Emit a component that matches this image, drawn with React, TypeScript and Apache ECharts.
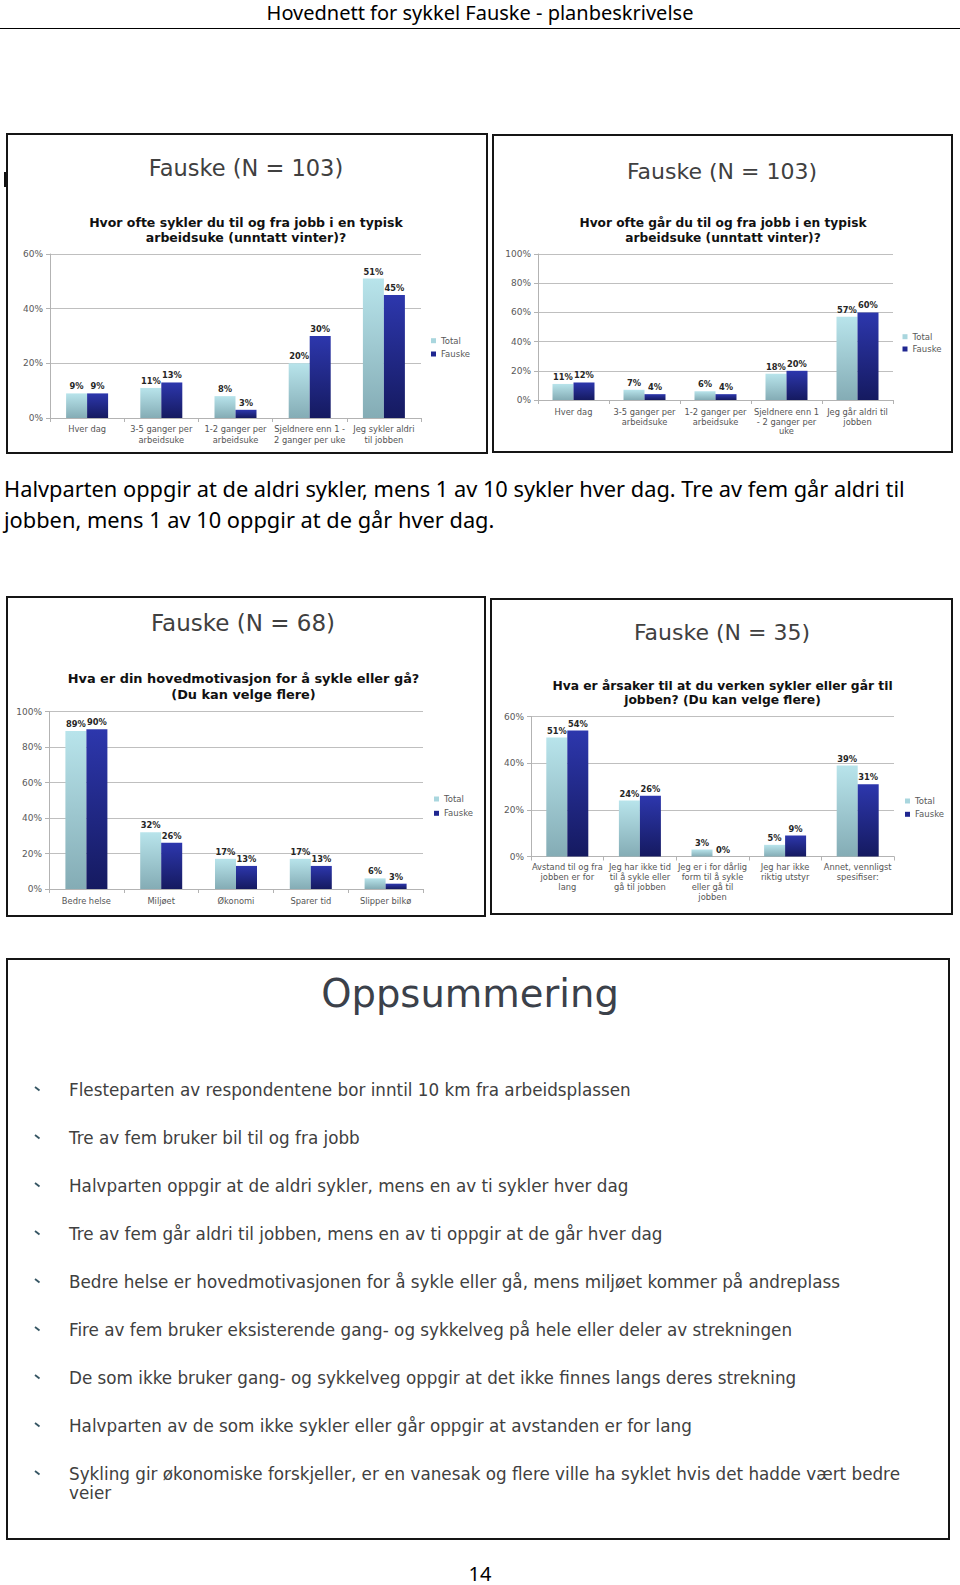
import React, { useEffect, useRef } from "react";
import * as echarts from "echarts";

// ---------- DATA ----------
const cycleCategories = ["Hver dag", "3-5 ganger per\narbeidsuke", "1-2 ganger per\narbeidsuke", "Sjeldnere enn 1 -\n2 ganger per uke", "Jeg sykler aldri\ntil jobben"];
const cycleTotal = [9, 11, 8, 20, 51];
const cycleFauske = [9, 13, 3, 30, 45];

const walkCategories = ["Hver dag", "3-5 ganger per\narbeidsuke", "1-2 ganger per\narbeidsuke", "Sjeldnere enn 1\n- 2 ganger per\nuke", "Jeg går aldri til\njobben"];
const walkTotal = [11, 7, 6, 18, 57];
const walkFauske = [12, 4, 4, 20, 60];

const motivCategories = ["Bedre helse", "Miljøet", "Økonomi", "Sparer tid", "Slipper bilkø"];
const motivTotal = [89, 32, 17, 17, 6];
const motivFauske = [90, 26, 13, 13, 3];

const reasonCategories = ["Avstand til og fra\njobben er for\nlang", "Jeg har ikke tid\ntil å sykle eller\ngå til jobben", "Jeg er i for dårlig\nform til å sykle\neller gå til\njobben", "Jeg har ikke\nriktig utstyr", "Annet, vennligst\nspesifiser:"];
const reasonTotal = [51, 24, 3, 5, 39];
const reasonFauske = [54, 26, 0, 9, 31];

const chartTitles = ["Fauske (N = 103)", "Fauske (N = 103)", "Fauske (N = 68)", "Fauske (N = 35)"];
const chartQuestions = [
  "Hvor ofte sykler du til og fra jobb i en typisk\narbeidsuke (unntatt vinter)?",
  "Hvor ofte går du til og fra jobb i en typisk\narbeidsuke (unntatt vinter)?",
  "Hva er din hovedmotivasjon for å sykle eller gå?\n(Du kan velge flere)",
  "Hva er årsaker til at du verken sykler eller går til\njobben? (Du kan velge flere)",
];
const yMax = [60, 100, 100, 60];
const seriesNames = ["Total", "Fauske"];

const headerText = "Hovednett for sykkel Fauske - planbeskrivelse";
const paragraphLines = [
  "Halvparten oppgir at de aldri sykler, mens 1 av 10 sykler hver dag. Tre av fem går aldri til",
  "jobben, mens 1 av 10 oppgir at de går hver dag.",
];
const summaryTitle = "Oppsummering";
const summaryItems = [
  "Flesteparten av respondentene bor inntil 10 km fra arbeidsplassen",
  "Tre av fem bruker bil til og fra jobb",
  "Halvparten oppgir at de aldri sykler, mens en av ti sykler hver dag",
  "Tre av fem går aldri til jobben, mens en av ti oppgir at de går hver dag",
  "Bedre helse er hovedmotivasjonen for å sykle eller gå, mens miljøet kommer på andreplass",
  "Fire av fem bruker eksisterende gang- og sykkelveg på hele eller deler av strekningen",
  "De som ikke bruker gang- og sykkelveg oppgir at det ikke finnes langs deres strekning",
  "Halvparten av de som ikke sykler eller går oppgir at avstanden er for lang",
  "Sykling gir økonomiske forskjeller, er en vanesak og flere ville ha syklet hvis det hadde vært bedre\nveier",
];
const pageNumber = "14";

// ---------- LAYOUT ----------
const FONT = "DejaVu Sans";
const grids = [
  { left: 50, top: 254, width: 371, height: 164 },
  { left: 538, top: 254, width: 355, height: 146 },
  { left: 49, top: 711.5, width: 374, height: 177.5 },
  { left: 531, top: 716.5, width: 363, height: 140 },
];
const boxes = [
  { x: 7, y: 134, w: 480, h: 319 },
  { x: 493, y: 135, w: 459, h: 317 },
  { x: 7, y: 597, w: 478, h: 319 },
  { x: 491, y: 599, w: 461, h: 315 },
];
const titlePos = [
  { x: 246, y: 168, size: 22.5 },
  { x: 722, y: 171.5, size: 22 },
  { x: 243, y: 623, size: 23 },
  { x: 722, y: 632.5, size: 22 },
];
const questionPos = [
  { x: 246, y: 222.7, size: 12.5, lh: 14.5 },
  { x: 723, y: 223, size: 12.2, lh: 14.5 },
  { x: 243.5, y: 678, size: 12.9, lh: 16 },
  { x: 722.5, y: 685.7, size: 12.3, lh: 14.5 },
];
const legendPos = [
  { left: 431, top: 335.7, gap: 3.3 },
  { left: 902.5, top: 331.7, gap: 2.3 },
  { left: 434, top: 794, gap: 4.3 },
  { left: 905, top: 796, gap: 3.3 },
];
const xLabelStyle = [
  { margin: 5.5, lh: 11 },
  { margin: 7, lh: 9.7 },
  { margin: 7, lh: 10 },
  { margin: 5.6, lh: 10 },
];

const totalColor = () =>
  new echarts.graphic.LinearGradient(0, 0, 0, 1, [
    { offset: 0, color: "#b8e4eb" },
    { offset: 1, color: "#84acb5" },
  ]);
const fauskeColor = () =>
  new echarts.graphic.LinearGradient(0, 0, 0, 1, [
    { offset: 0, color: "#2d37ad" },
    { offset: 1, color: "#151a60" },
  ]);

export default function App() {
  const ref = useRef<HTMLDivElement>(null);

  useEffect(() => {
    if (!ref.current) return;
    const chart = echarts.init(ref.current, undefined, { renderer: "svg" });

    const cats = [cycleCategories, walkCategories, motivCategories, reasonCategories];
    const totals = [cycleTotal, walkTotal, motivTotal, reasonTotal];
    const fauskes = [cycleFauske, walkFauske, motivFauske, reasonFauske];

    const xAxis = cats.map((c, i) => ({
      type: "category",
      gridIndex: i,
      data: c,
      axisLine: { show: true, lineStyle: { color: "#b3b3b3", width: 1 } },
      axisTick: { show: true, length: 4, lineStyle: { color: "#b3b3b3" } },
      axisLabel: {
        interval: 0,
        hideOverlap: false,
        color: "#555555",
        fontFamily: FONT,
        fontSize: 8.3,
        lineHeight: xLabelStyle[i].lh,
        margin: xLabelStyle[i].margin,
      },
    }));
    const yAxis = yMax.map((m, i) => ({
      type: "value",
      gridIndex: i,
      min: 0,
      max: m,
      interval: 20,
      axisLine: { show: true, lineStyle: { color: "#b3b3b3", width: 1 } },
      axisTick: { show: true, length: 4, lineStyle: { color: "#b3b3b3" } },
      splitLine: { show: true, lineStyle: { color: "#bfbfbf", width: 1 } },
      axisLabel: {
        formatter: "{value}%",
        color: "#595959",
        fontFamily: FONT,
        fontSize: 9,
        margin: 7,
      },
    }));

    const series: any[] = [];
    for (let i = 0; i < 4; i++) {
      [totals[i], fauskes[i]].forEach((d, k) => {
        series.push({
          type: "bar",
          name: seriesNames[k],
          xAxisIndex: i,
          yAxisIndex: i,
          data: d,
          barWidth: 21,
          barGap: "0%",
          itemStyle: { color: k === 0 ? totalColor() : fauskeColor() },
          label: {
            show: true,
            position: "top",
            distance: 3,
            formatter: "{c}%",
            fontFamily: FONT,
            fontSize: 8.3,
            fontWeight: "bold",
            color: "#262626",
          },
        });
      });
    }

    const legend = legendPos.map((p) => ({
      orient: "vertical",
      left: p.left,
      top: p.top,
      padding: 0,
      itemGap: p.gap,
      itemWidth: 5,
      itemHeight: 5,
      icon: "rect",
      textStyle: { color: "#595959", fontFamily: FONT, fontSize: 8.5, lineHeight: 10 },
      data: [
        { name: seriesNames[0], itemStyle: { color: "#a9d6de" } },
        { name: seriesNames[1], itemStyle: { color: "#1f2690" } },
      ],
    }));

    const graphic: any[] = [];
    // header
    graphic.push({
      type: "text",
      x: 480,
      y: 12,
      style: { text: headerText, font: "20px 'Noto Sans'", fill: "#000", textAlign: "center", textVerticalAlign: "middle" },
    });
    graphic.push({ type: "line", shape: { x1: 0, y1: 28.5, x2: 960, y2: 28.5 }, style: { stroke: "#000", lineWidth: 1 } });
    // small mark
    graphic.push({ type: "rect", shape: { x: 4, y: 172, width: 3, height: 15 }, style: { fill: "#111" } });
    // chart boxes, titles, questions
    boxes.forEach((b, i) => {
      graphic.push({
        type: "rect",
        shape: { x: b.x, y: b.y, width: b.w, height: b.h },
        style: { fill: "none", stroke: "#151515", lineWidth: 2 },
      });
      graphic.push({
        type: "text",
        x: titlePos[i].x,
        y: titlePos[i].y,
        style: {
          text: chartTitles[i],
          font: `${titlePos[i].size}px '${FONT}'`,
          fill: "#404040",
          textAlign: "center",
          textVerticalAlign: "middle",
        },
      });
      const qs = questionPos[i];
      graphic.push({
        type: "text",
        x: qs.x,
        y: qs.y - qs.lh / 2,
        style: {
          text: chartQuestions[i],
          font: `bold ${qs.size}px '${FONT}'`,
          lineHeight: qs.lh,
          fill: "#111",
          textAlign: "center",
          textVerticalAlign: "top",
        },
      });
    });
    // paragraph
    paragraphLines.forEach((t, i) => {
      graphic.push({
        type: "text",
        x: 4,
        y: 488 + i * 31,
        style: { text: t, font: "21.8px 'Noto Sans'", fill: "#000", textAlign: "left", textVerticalAlign: "middle" },
      });
    });
    // summary box
    graphic.push({
      type: "rect",
      shape: { x: 7, y: 959, width: 942, height: 580 },
      style: { fill: "none", stroke: "#151515", lineWidth: 2 },
    });
    graphic.push({
      type: "text",
      x: 470,
      y: 993,
      style: { text: summaryTitle, font: `38.5px '${FONT}'`, fill: "#3b414a", textAlign: "center", textVerticalAlign: "middle" },
    });
    summaryItems.forEach((t, i) => {
      const y = 1089.5 + i * 48;
      graphic.push({
        type: "line",
        shape: { x1: 35, y1: y - 2.5, x2: 39.5, y2: y + 1 },
        style: { stroke: "#355563", lineWidth: 1.8 },
      });
      graphic.push({
        type: "text",
        x: 69,
        y: y - 9.8,
        style: {
          text: t,
          font: `16.8px '${FONT}'`,
          lineHeight: 19.6,
          fill: "#404040",
          textAlign: "left",
          textVerticalAlign: "top",
        },
      });
    });
    graphic.push({
      type: "text",
      x: 480,
      y: 1573,
      style: { text: pageNumber, font: "20px 'Noto Sans'", fill: "#000", textAlign: "center", textVerticalAlign: "middle" },
    });

    chart.setOption({
      animation: false,
      backgroundColor: "#ffffff",
      textStyle: { fontFamily: FONT },
      grid: grids.map((g) => ({ ...g, containLabel: false })),
      xAxis,
      yAxis,
      series,
      legend,
      graphic,
    });

    return () => chart.dispose();
  }, []);

  return (
    <div
      ref={ref}
      style={{ position: "absolute", left: 0, top: 0, width: 960, height: 1585, background: "#fff" }}
    />
  );
}
